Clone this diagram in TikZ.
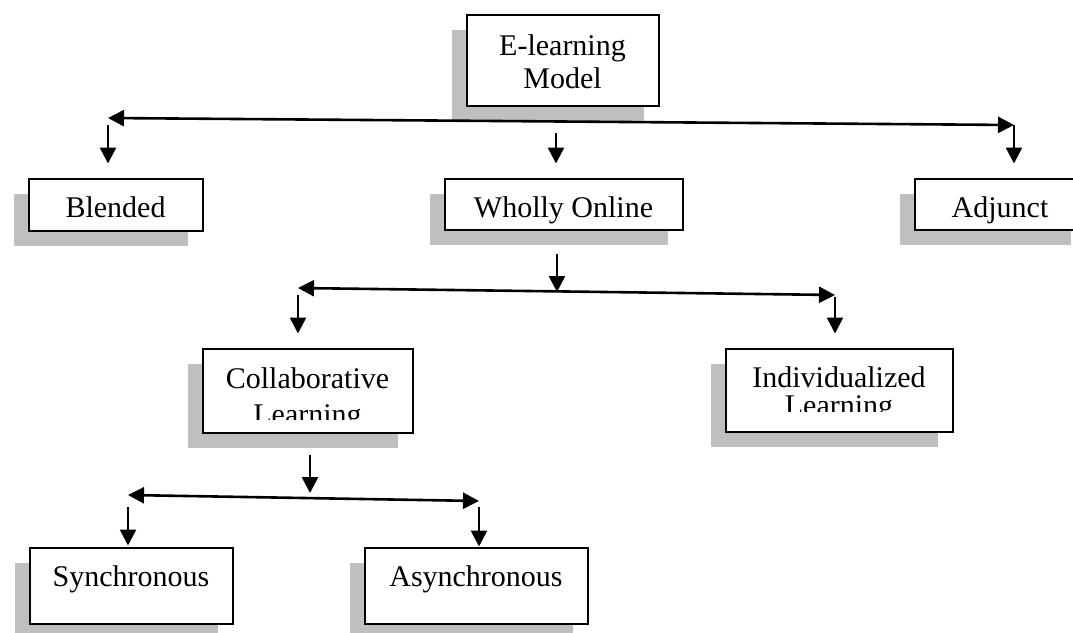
\documentclass[tikz,border=0pt]{standalone}
\usepackage{fontspec}
\setmainfont{Liberation Serif}
\usetikzlibrary{arrows.meta,shadows}
\definecolor{shadowgray}{RGB}{191,191,191}

\begin{document}
\begin{tikzpicture}[x=1pt,y=-1pt,
    box/.style={draw,line width=2pt,fill=white,inner sep=0pt,outer sep=0pt,
      drop shadow={shadow xshift=-15pt,shadow yshift=-15pt,fill=shadowgray,opacity=1}},
    lbl/.style={font=\fontsize{30}{33}\selectfont,align=center,anchor=base,inner sep=0pt},
    arr/.style={line width=2.6pt,-{Triangle[length=16pt,width=16pt]}},
    bus/.style={line width=2.6pt,{Triangle[length=16pt,width=16pt]}-{Triangle[length=16pt,width=16pt]}}]
        \useasboundingbox (0,0) rectangle (1073,632);
        \clip (0,0) rectangle (1073,632);
        \node[box,minimum width=192pt,minimum height=91pt] (model) at (562.5,60) {};
        \node[box,minimum width=174pt,minimum height=52pt] (blend) at (115.5,204.5) {};
        \node[box,minimum width=238pt,minimum height=51pt] (online) at (563.5,204) {};
        \node[box,minimum width=171pt,minimum height=51pt] (adj) at (1000,204) {};
        \node[box,minimum width=210pt,minimum height=84pt] (collab) at (307.5,390.5) {};
        \node[box,minimum width=227pt,minimum height=83pt] (indiv) at (839,390) {};
        \node[box,minimum width=203pt,minimum height=76pt] (sync) at (131,585.5) {};
        \node[box,minimum width=223pt,minimum height=76pt] (async) at (476,585.5) {};
        \node[lbl] (modeltxt) at ([yshift=-74pt]model.north) {E-learning\\Model};
        \node[lbl] (blendtxt) at ([yshift=-39pt]blend.north) {Blended};
        \node[lbl] (onlinetxt) at ([yshift=-39pt]online.north) {Wholly Online};
        \node[lbl] (adjtxt) at ([yshift=-39pt]adj.north) {Adjunct};
        \begin{scope}
          \clip (collab.north west) rectangle ([yshift=13pt]collab.south east);
          \node[lbl] (collabtxt) at ([yshift=-76pt]collab.north) {Collaborative\\[3pt]Learning};
        \end{scope}
        \begin{scope}
          \clip (indiv.north west) rectangle ([yshift=20pt]indiv.south east);
          \node[lbl] (indivtxt) at ([yshift=-67pt]indiv.north) {Individualized\\[-5pt]Learning};
        \end{scope}
        \node[lbl] (synctxt) at ([yshift=-39pt]sync.north) {Synchronous};
        \node[lbl] (asynctxt) at ([yshift=-39pt]async.north) {Asynchronous};
        \coordinate (b1l) at (108,118);
        \coordinate (b1r) at (1014,125);
        \coordinate (b1m) at (556,122);
        \coordinate (b2l) at (298,288);
        \coordinate (b2r) at (835,295);
        \coordinate (b2m) at (557,292);
        \coordinate (b3l) at (128,495);
        \coordinate (b3r) at (479,501);
        \coordinate (b3m) at (310,493);
        \draw[bus] (b1l) -- (b1r);
        \draw[arr,shorten >=15pt] ([yshift=-7pt]b1l) -- (b1l |- blend.north);
        \draw[arr,shorten >=15pt] ([yshift=-11pt]b1m) -- (b1m |- online.north);
        \draw[arr,shorten >=15pt] (b1r) -- (b1r |- adj.north);
        \draw[arr,shorten <=24pt] (b2m |- online.south) -- (b2m);
        \draw[bus] (b2l) -- (b2r);
        \draw[arr,shorten >=15pt] ([yshift=-7pt]b2l) -- (b2l |- collab.north);
        \draw[arr,shorten >=15pt] ([yshift=-2pt]b2r) -- (b2r |- indiv.north);
        \draw[arr,shorten <=22pt] (b3m |- collab.south) -- (b3m);
        \draw[bus] (b3l) -- (b3r);
        \draw[arr,shorten >=2pt] ([yshift=-12pt]b3l) -- (b3l |- sync.north);
        \draw[arr,shorten >=1pt] ([yshift=-6pt]b3r) -- (b3r |- async.north);
      \end{tikzpicture}
\end{document}
